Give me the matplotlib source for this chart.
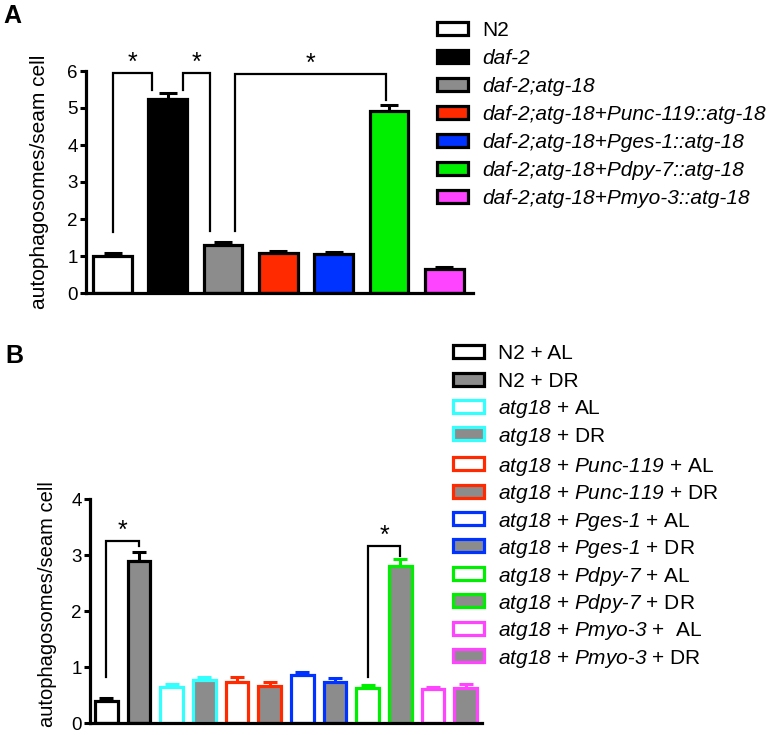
import matplotlib
matplotlib.use("Agg")
import matplotlib.pyplot as plt
from matplotlib.patches import Rectangle

plt.rcParams['font.family'] = ['Liberation Sans', 'DejaVu Sans']
plt.rcParams['mathtext.fontset'] = 'custom'
plt.rcParams['mathtext.it'] = 'Liberation Sans:italic'
plt.rcParams['mathtext.rm'] = 'Liberation Sans:italic'

# panel A data
a_labels = ['N2', 'daf-2', 'daf-2;atg-18', 'daf-2;atg-18+Punc-119::atg-18',
            'daf-2;atg-18+Pges-1::atg-18', 'daf-2;atg-18+Pdpy-7::atg-18',
            'daf-2;atg-18+Pmyo-3::atg-18']
a_values = [1.00, 5.25, 1.29, 1.08, 1.05, 4.92, 0.64]
a_errors = [0.08, 0.15, 0.08, 0.06, 0.07, 0.16, 0.07]
a_colors = ['white', 'black', '#8c8c8c', '#ff2a00', '#0033ff', '#00ee00', '#ff44ff']

# panel B data
b_labels = ['N2 + AL', 'N2 + DR',
            r'$\mathrm{atg18}$ + AL', r'$\mathrm{atg18}$ + DR',
            r'$\mathrm{atg18}$ + $\mathrm{Punc}$-$\mathrm{119}$ + AL',
            r'$\mathrm{atg18}$ + $\mathrm{Punc}$-$\mathrm{119}$ + DR',
            r'$\mathrm{atg18}$ + $\mathrm{Pges}$-$\mathrm{1}$ + AL',
            r'$\mathrm{atg18}$ + $\mathrm{Pges}$-$\mathrm{1}$ + DR',
            r'$\mathrm{atg18}$ + $\mathrm{Pdpy}$-$\mathrm{7}$ + AL',
            r'$\mathrm{atg18}$ + $\mathrm{Pdpy}$-$\mathrm{7}$ + DR',
            r'$\mathrm{atg18}$ + $\mathrm{Pmyo}$-$\mathrm{3}$ +  AL',
            r'$\mathrm{atg18}$ + $\mathrm{Pmyo}$-$\mathrm{3}$ + DR']
b_values = [0.39, 2.89, 0.64, 0.77, 0.74, 0.66, 0.85, 0.74, 0.63, 2.80, 0.60, 0.62]
b_errors = [0.06, 0.16, 0.06, 0.06, 0.08, 0.07, 0.06, 0.06, 0.05, 0.13, 0.05, 0.07]
b_edges = ['black', 'black', '#33ffff', '#33ffff', '#ff2a00', '#ff2a00',
           '#0033ff', '#0033ff', '#00ee00', '#00ee00', '#ff44ff', '#ff44ff']
b_faces = ['white', '#8c8c8c'] * 6

# significance brackets: x left, x right, top, left foot, right foot
a_sig = [(0.0, 0.72, 5.95, 1.66, 5.49),
         (1.27, 1.77, 5.95, 5.49, 1.67),
         (2.22, 4.95, 5.93, 1.67, 5.22)]
b_sig = [(0.0, 1.0, 3.25, 0.82, 3.16),
         (8.0, 9.0, 3.16, 0.82, 2.98)]

W, H = 771, 735
fig = plt.figure(figsize=(W / 100, H / 100), dpi=100)


def px_axes(x0, y0, x1, y1):
    return fig.add_axes([x0 / W, 1 - y1 / H, (x1 - x0) / W, (y1 - y0) / H])


def style_axes(ax, ymax, label_size):
    for s in ['top', 'right']:
        ax.spines[s].set_visible(False)
    for s in ['left', 'bottom']:
        ax.spines[s].set_linewidth(2.3)
    ax.set_ylim(0, ymax)
    ax.set_yticks(range(ymax + 1))
    ax.set_xticks([])
    ax.tick_params(axis='y', direction='out', length=4.5, width=2.2, pad=1.5, labelsize=13.5)
    ax.set_ylabel('autophagosomes/seam cell', fontsize=label_size)


def brackets(ax, sig, star_size=18):
    for xl, xr, top, fl, fr in sig:
        ax.plot([xl, xl, xr, xr], [fl, top, top, fr], color='black', lw=1.6,
                clip_on=False, solid_joinstyle='miter')
        ax.text((xl + xr) / 2, top - 0.01 * ax.get_ylim()[1], '*', ha='center', va='bottom',
                fontsize=star_size)


# panel A
axA = px_axes(86, 71, 473, 293)
xa = list(range(len(a_values)))
axA.bar(xa, a_values, width=0.7, color=a_colors, edgecolor='black', linewidth=2.3, zorder=2)
axA.errorbar(xa, a_values, yerr=[[0] * len(xa), a_errors], fmt='none', ecolor='black',
             elinewidth=2.2, capsize=6.5, capthick=2.2, zorder=1)
axA.set_xlim(-0.48, 6.52)
style_axes(axA, 6, 15)
axA.yaxis.set_label_coords(-0.095, 0.5)
brackets(axA, a_sig)

# panel B
axB = px_axes(90, 499, 482, 723)
xb = list(range(len(b_values)))
axB.bar(xb, b_values, width=0.7, color=b_faces, edgecolor=b_edges, linewidth=2.3, zorder=2)
for x, v, e, c in zip(xb, b_values, b_errors, b_edges):
    axB.errorbar([x], [v], yerr=[[0], [e]], fmt='none', ecolor=c,
                 elinewidth=2.2, capsize=5, capthick=2.2, zorder=1)
axB.set_xlim(-0.5, 11.5)
style_axes(axB, 4, 14.5)
axB.yaxis.set_label_coords(-0.085, 0.53)
brackets(axB, b_sig)

fig.text(3 / W, 1 - 4 / H, 'A', fontsize=18, fontweight='bold', ha='left', va='top')
fig.text(5 / W, 1 - 344 / H, 'B', fontsize=18, fontweight='bold', ha='left', va='top')


def legend_rows(x0, y0, dy, labels, faces, edges, italic, extra_gap=None):
    y = y0
    for i, lab in enumerate(labels):
        if extra_gap and i == extra_gap[0]:
            y += extra_gap[1]
        fig.patches.append(Rectangle(((x0 + 1.5) / W, 1 - (y + 6.5) / H), 31 / W, 13 / H,
                                     transform=fig.transFigure, facecolor=faces[i],
                                     edgecolor=edges[i], linewidth=2.3))
        fig.text((x0 + 47) / W, 1 - y / H, lab, fontsize=15, ha='left', va='center_baseline',
                 fontstyle='italic' if italic[i] else 'normal')
        y += dy


legend_rows(435, 28.7, 28.0, a_labels, a_colors, ['black'] * 7, [False] + [True] * 6)
legend_rows(451, 351.7, 27.4, b_labels, b_faces, b_edges, [False] * 12, extra_gap=(4, 2.5))

fig.savefig('out.png', dpi=100)
